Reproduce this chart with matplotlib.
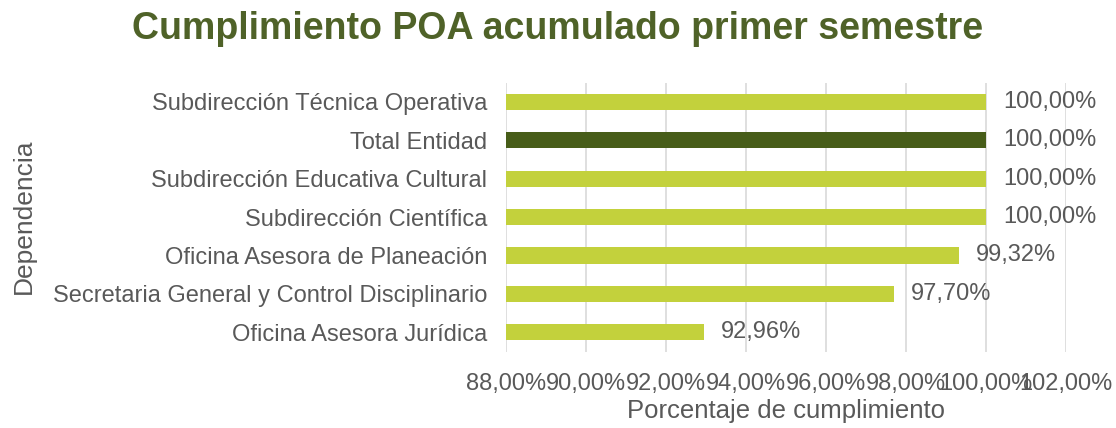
import matplotlib
matplotlib.use('Agg')
import matplotlib.pyplot as plt
from matplotlib.ticker import FuncFormatter

plt.rcParams['font.family'] = ['Liberation Sans', 'DejaVu Sans']

dependencias = [
    'Oficina Asesora Jurídica',
    'Secretaria General y Control Disciplinario',
    'Oficina Asesora de Planeación',
    'Subdirección Científica',
    'Subdirección Educativa Cultural',
    'Total Entidad',
    'Subdirección Técnica Operativa',
]
cumplimiento = [92.96, 97.70, 99.32, 100.00, 100.00, 100.00, 100.00]

verde_claro = '#C3D13C'
verde_oscuro = '#475D19'
gris = '#595959'

colores = [verde_oscuro if d == 'Total Entidad' else verde_claro for d in dependencias]

fig = plt.figure(figsize=(11.16, 4.28), dpi=100, facecolor='white')
ax = fig.add_axes([0.4534, 0.1787, 0.5018, 0.6285])

base = 88
ax.barh(dependencias, [v - base for v in cumplimiento], left=base,
        height=0.42, color=colores, zorder=3)

for i, v in enumerate(cumplimiento):
    ax.text(v + 0.42, i, f'{v:.2f}%'.replace('.', ','), va='center', ha='left',
            fontsize=17, color=gris)

ax.set_xlim(88, 102)
ax.set_ylim(-0.5, len(dependencias) - 0.5)
ax.set_xticks(range(88, 103, 2))
ax.xaxis.set_major_formatter(FuncFormatter(lambda x, p: f'{x:.2f}%'.replace('.', ',')))
ax.grid(axis='x', color='#D9D9D9', linewidth=1.2, zorder=0)
ax.tick_params(axis='both', length=0, labelsize=17, labelcolor=gris)
ax.tick_params(axis='x', pad=15.5)
ax.tick_params(axis='y', pad=13.5)
for s in ax.spines.values():
    s.set_visible(False)

ax.set_xlabel('Porcentaje de cumplimiento', fontsize=18.5, color=gris, labelpad=3)
fig.text(0.021, 0.494, 'Dependencia', rotation=90, fontsize=19, color=gris,
         ha='center', va='center')
fig.suptitle('Cumplimiento POA acumulado primer semestre', fontsize=27,
             fontweight='bold', color='#4F6228', x=0.5, y=0.975)

fig.savefig('out.png', dpi=100, facecolor='white')
